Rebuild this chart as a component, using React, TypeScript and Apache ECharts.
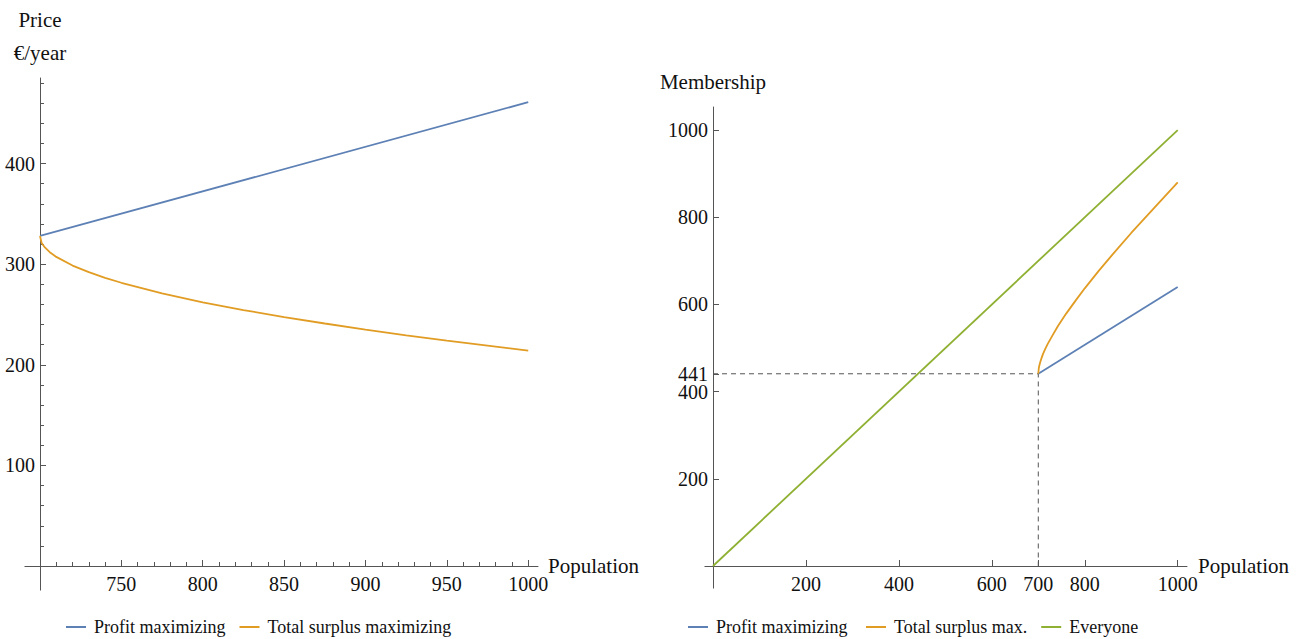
import React, { useEffect, useRef } from "react";
import * as echarts from "echarts";

// ---------- data ----------
// Left panel: price (€/year) vs population
const leftProfitPopulation = [700, 1000];
const leftProfitPrice = [328, 461];
const leftSurplusPopulation = [700, 701, 703, 706, 710, 720, 730, 740, 750, 775, 800, 825, 850, 875, 900, 925, 950, 975, 1000];
const leftSurplusPrice = [328, 321, 316.6, 311.9, 307.2, 298.6, 292, 286.4, 281.5, 271, 262, 254.4, 247.4, 241, 235, 229.3, 224, 219, 214];

// Right panel: membership vs population
const rightProfitPopulation = [700, 1000];
const rightProfitMembership = [441, 640];
const rightSurplusPopulation = [700, 701, 702, 704, 707, 710, 715, 720, 730, 742, 760, 781, 800, 830, 860, 900, 950, 1000];
const rightSurplusMembership = [441, 453, 459, 467, 477, 486, 498, 509, 528, 550, 579, 610, 637, 677, 715, 764, 822, 880];
const everyonePopulation = [0, 1000];
const everyoneMembership = [0, 1000];
const thresholdPopulation = 700;
const thresholdMembership = 441;

// Ticks
const leftXMajor = [700, 750, 800, 850, 900, 950, 1000];
const leftXLabels = [750, 800, 850, 900, 950, 1000];
const leftXMinor = [710, 720, 730, 740, 760, 770, 780, 790, 810, 820, 830, 840, 860, 870, 880, 890, 910, 920, 930, 940, 960, 970, 980, 990];
const leftYMajor = [100, 200, 300, 400];
const leftYMinor = [20, 40, 60, 80, 120, 140, 160, 180, 220, 240, 260, 280, 320, 340, 360, 380, 420, 440, 460, 480];
const rightXTicks = [200, 400, 600, 700, 800, 1000];
const rightYTicks = [200, 400, 441, 600, 800, 1000];

const legendLeft = ["Profit maximizing", "Total surplus maximizing"];
const legendRight = ["Profit maximizing ", "Total surplus max.", "Everyone"];

const BLUE = "#5E81B5";
const ORANGE = "#E19C24";
const GREEN = "#8FB032";
const AXIS = "#555555";
const FONT = "Liberation Serif";

const zip = (xs: number[], ys: number[]) => xs.map((x, i) => [x, ys[i]]);
const plain = (v: number) => String(v);

export default function App() {
  const ref = useRef<HTMLDivElement>(null);
  useEffect(() => {
    if (!ref.current) return;
    const chart = echarts.init(ref.current, undefined, { renderer: "svg" });

    const axisLine = { show: true, onZero: false, lineStyle: { color: AXIS, width: 1 } };
    const label = { color: "#111", fontSize: 20, fontFamily: FONT, formatter: plain };
    const nameStyle = { color: "#111", fontSize: 21, fontFamily: FONT };
    const noTick = { show: false };

    // an axis that only draws tick marks
    const tickAxis = (gridIndex: number, position: string, min: number, max: number, values: number[], length: number) => ({
      type: "value", gridIndex, position, offset: 0, min, max,
      axisLine: { show: false, onZero: false },
      axisTick: { show: true, inside: true, length, customValues: values, lineStyle: { color: AXIS, width: 1 } },
      axisLabel: { show: false },
      splitLine: { show: false },
    });

    const option: any = {
      animation: false,
      textStyle: { fontFamily: FONT },
      grid: [
        { left: 40, top: 78, width: 498, height: 488, containLabel: false, outerBoundsMode: "none" },
        { left: 713, top: 107, width: 474, height: 459, containLabel: false, outerBoundsMode: "none" },
      ],
      xAxis: [
        {
          type: "value", gridIndex: 0, position: "bottom", min: 700, max: 1006,
          axisLine, axisTick: noTick,
          axisLabel: { ...label, margin: 8, customValues: leftXLabels },
          splitLine: { show: false },
          name: "Population", nameLocation: "end", nameGap: 10, nameMoveOverlap: false, nameTextStyle: nameStyle,
        },
        tickAxis(0, "bottom", 700, 1006, leftXMinor, 4),
        {
          type: "value", gridIndex: 1, position: "bottom", min: 0, max: 1020,
          axisLine, axisTick: noTick,
          axisLabel: { ...label, margin: 8, customValues: rightXTicks },
          splitLine: { show: false },
          name: "Population", nameLocation: "end", nameGap: 11, nameMoveOverlap: false, nameTextStyle: nameStyle,
        },
        tickAxis(0, "bottom", 700, 1006, leftXMajor, 6),
        tickAxis(1, "bottom", 0, 1020, rightXTicks, 6),
      ],
      yAxis: [
        {
          type: "value", gridIndex: 0, position: "left", min: 0, max: 485,
          axisLine, axisTick: noTick,
          axisLabel: { ...label, margin: 5, customValues: leftYMajor },
          splitLine: { show: false },
          name: "Price\n€/year", nameLocation: "end", nameGap: 9, nameMoveOverlap: false,
          nameTextStyle: { ...nameStyle, lineHeight: 33, align: "center" },
        },
        tickAxis(0, "left", 0, 485, leftYMinor, 4),
        {
          type: "value", gridIndex: 1, position: "left", min: 0, max: 1053,
          axisLine, axisTick: noTick,
          axisLabel: { ...label, margin: 5, customValues: rightYTicks },
          splitLine: { show: false },
          name: "Membership", nameLocation: "end", nameGap: 15, nameMoveOverlap: false, nameTextStyle: nameStyle,
        },
        tickAxis(0, "left", 0, 485, leftYMajor, 6),
        tickAxis(1, "left", 0, 1053, rightYTicks, 6),
      ],
      legend: [
        {
          data: legendLeft, left: 66, top: 618, padding: 0, icon: "rect", itemWidth: 20, itemHeight: 2, itemGap: 14,
          selectedMode: false, textStyle: { color: "#111", fontSize: 18, fontFamily: FONT, padding: [0, 0, 0, 3] },
        },
        {
          data: legendRight, left: 688, top: 618, padding: 0, icon: "rect", itemWidth: 20, itemHeight: 2, itemGap: 14,
          selectedMode: false, textStyle: { color: "#111", fontSize: 18, fontFamily: FONT, padding: [0, 0, 0, 3] },
        },
      ],
      series: [
        {
          name: legendLeft[0], type: "line", xAxisIndex: 0, yAxisIndex: 0, showSymbol: false, symbol: "none",
          color: BLUE, lineStyle: { color: BLUE, width: 1.8 }, data: zip(leftProfitPopulation, leftProfitPrice),
        },
        {
          name: legendLeft[1], type: "line", xAxisIndex: 0, yAxisIndex: 0, showSymbol: false, symbol: "none",
          color: ORANGE, lineStyle: { color: ORANGE, width: 1.8 }, data: zip(leftSurplusPopulation, leftSurplusPrice),
        },
        {
          name: "threshold", type: "line", xAxisIndex: 2, yAxisIndex: 2, showSymbol: false, symbol: "none",
          lineStyle: { color: AXIS, width: 1, type: [5, 4] },
          data: [[0, thresholdMembership], [thresholdPopulation, thresholdMembership], [thresholdPopulation, 0]],
        },
        {
          name: legendRight[2], type: "line", xAxisIndex: 2, yAxisIndex: 2, showSymbol: false, symbol: "none",
          color: GREEN, lineStyle: { color: GREEN, width: 1.8 }, data: zip(everyonePopulation, everyoneMembership),
        },
        {
          name: legendRight[0], type: "line", xAxisIndex: 2, yAxisIndex: 2, showSymbol: false, symbol: "none",
          color: BLUE, lineStyle: { color: BLUE, width: 1.8 }, data: zip(rightProfitPopulation, rightProfitMembership),
        },
        {
          name: legendRight[1], type: "line", xAxisIndex: 2, yAxisIndex: 2, showSymbol: false, symbol: "none",
          color: ORANGE, lineStyle: { color: ORANGE, width: 1.8 }, data: zip(rightSurplusPopulation, rightSurplusMembership),
        },
      ],
    };
    chart.setOption(option);

    // short axis extensions beyond the crossing points (left of x axis, below y axis)
    const pL = chart.convertToPixel({ xAxisIndex: 0, yAxisIndex: 0 } as any, [700, 0]) as number[];
    const pR = chart.convertToPixel({ xAxisIndex: 2, yAxisIndex: 2 } as any, [0, 0]) as number[];
    if (pL && pR) {
      const xl = Math.round(pL[0]) + 0.5, yl = Math.round(pL[1]) + 0.5;
      const xr = Math.round(pR[0]) + 0.5, yr = Math.round(pR[1]) + 0.5;
      const st = { stroke: AXIS, lineWidth: 1 };
      chart.setOption({
        graphic: [
          { type: "line", shape: { x1: xl - 16, y1: yl, x2: xl, y2: yl }, style: st },
          { type: "line", shape: { x1: xl, y1: yl, x2: xl, y2: yl + 24 }, style: st },
          { type: "line", shape: { x1: xr - 9, y1: yr, x2: xr, y2: yr }, style: st },
          { type: "line", shape: { x1: xr, y1: yr, x2: xr, y2: yr + 22 }, style: st },
        ],
      });
    }
    return () => chart.dispose();
  }, []);
  return (
    <div
      ref={ref}
      style={{ position: "fixed", left: 0, top: 0, width: 1311, height: 639, background: "#fff" }}
    />
  );
}
